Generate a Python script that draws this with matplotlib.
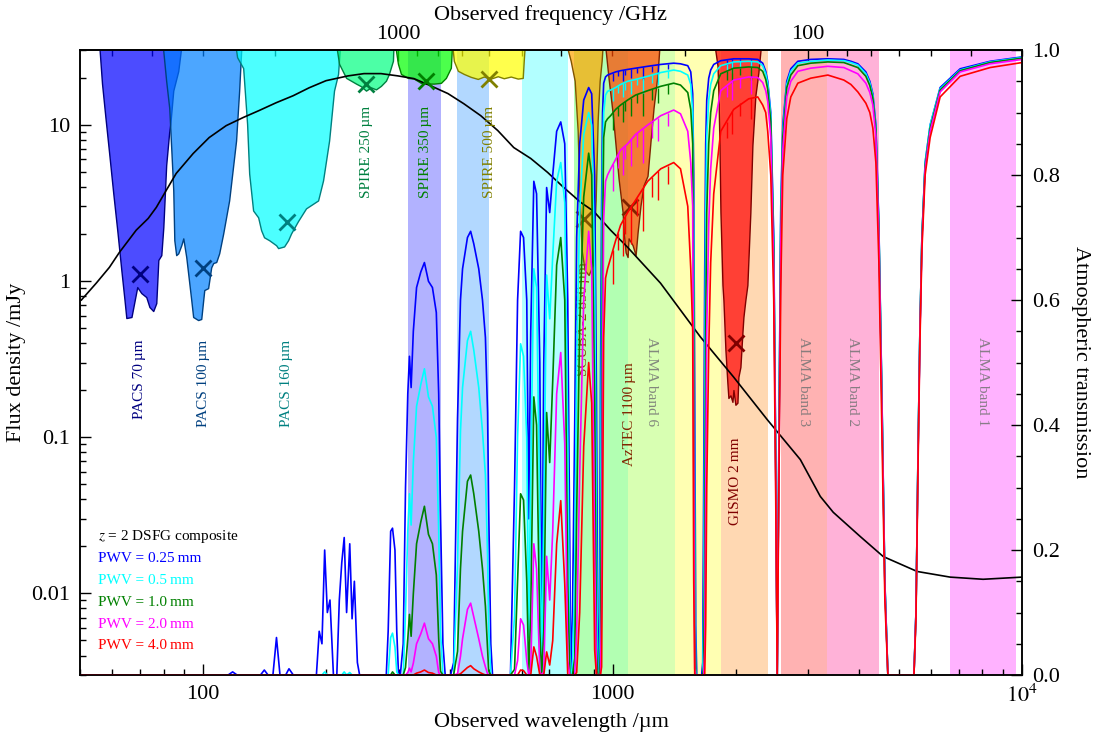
import matplotlib
matplotlib.use("Agg")
import matplotlib.pyplot as plt
from matplotlib.colors import to_rgb
from matplotlib.ticker import (FuncFormatter, NullFormatter, MultipleLocator,
                               FormatStrFormatter, FixedLocator)

plt.rcParams['font.family'] = ['Liberation Serif', 'DejaVu Serif']
plt.rcParams['mathtext.fontset'] = 'stix'
plt.rcParams['font.size'] = 16
plt.rcParams['axes.linewidth'] = 1.1

C_LIGHT = 299792.458  # um * GHz
ANNOT_SIZE = 11

# ---- z=2 DSFG composite SED (observed frame) ----
sed_wave = [50.4, 54.8, 59.0, 62.4, 68.6, 73.4, 76.8, 81.2, 85.9, 94.5, 103.4, 113.8, 125.2,
            136.9, 150.7, 165.8, 181.4, 199.5, 225.8, 247.0, 271.8, 298.9, 327.0, 359.8,
            396.0, 433.1, 476.4, 524.2, 573.5, 631.0, 694.0, 759.4, 835.6, 898.9, 988.8,
            1088, 1309, 1639, 1973, 2388, 2874, 3216, 3459, 4026, 4581, 5545, 6674, 8035, 10000]
sed_flux = [0.754, 0.967, 1.22, 1.52, 2.11, 2.51, 2.95, 3.79, 4.87, 6.53, 8.26, 9.85, 11.1,
            12.3, 13.8, 15.3, 17.2, 19.1, 20.5, 21.2, 21.2, 20.5, 19.7, 17.7,
            15.8, 13.6, 11.4, 9.16, 7.13, 6.07, 4.94, 3.96, 3.18, 2.79, 2.11,
            1.64, 0.967, 0.437, 0.243, 0.129, 0.0718, 0.0417, 0.033, 0.0231, 0.0172, 0.0138,
            0.0127, 0.0123, 0.0127]

# ---- filter profiles (lower edge of the hanging curves, mJy) ----
pacs70_wave = [55.4, 56.6, 57.7, 59.0, 60.3, 61.7, 63.1, 64.2, 64.9, 66.8, 69.0, 70.6, 72.6,
               73.9, 75.5, 76.8, 77.7, 79.0, 79.9, 81.2, 82.6, 83.1, 84.5, 86.9, 89.4]
pacs70_flux = [40, 18.3, 11.1, 6.34, 3.63, 2.08, 1.17, 0.764, 0.578, 0.587, 0.912, 0.835, 0.787,
               0.68, 0.641, 0.72, 1.36, 1.46, 2.2, 5.5, 9.0, 10.1, 16.5, 22, 40]
pacs100_wave = [79.0, 81.2, 82.6, 83.6, 84.5, 85.0, 85.9, 86.9, 88.4, 89.4, 90.9, 93.5, 94.5,
                97.2, 98.9, 100.0, 100.6, 102.8, 104.6, 105.8, 107.6, 109.4, 111.9, 115.7,
                120.3, 122.4, 124.5]
pacs100_flux = [40, 19, 12.8, 6.8, 3.79, 1.82, 1.46, 1.50, 1.69, 1.87, 1.42, 0.753, 0.587,
                0.561, 0.570, 0.753, 0.873, 0.898, 1.22, 1.30, 1.32, 1.50, 2.01, 3.27,
                7.9, 16.5, 40]
pacs160_wave = [118.4, 121.0, 125.2, 128.0, 129.5, 132.4, 136.2, 138.5, 140.8, 144.9, 150.7,
                152.4, 157.6, 161.2, 163.9, 170.4, 178.3, 190.8, 196.2, 203.0, 208.7, 213.5, 217.1]
pacs160_flux = [40, 27, 23, 10.1, 4.86, 2.82, 2.55, 2.11, 1.90, 1.82, 1.69,
                1.62, 1.66, 1.82, 2.01, 2.41, 2.91, 3.27, 4.39, 7.9, 16.5, 21.1, 40]
spire250_wave = [208.7, 214.7, 223.4, 229.6, 236.2, 242.9, 249.8, 256.9, 264.2, 271.7, 279.5,
                 284.2, 290.7, 292.4]
spire250_flux = [40, 24.5, 19.9, 19.1, 18.3, 17.6, 16.5, 17.3, 16.8, 17.7, 19.1, 21.1, 25.6, 40]
spire350_wave = [290.7, 299.0, 304.1, 316.2, 327.0, 340.1, 353.8, 366.0, 380.7, 391.5, 402.6, 407.1]
spire350_flux = [40, 24.5, 21.1, 19.9, 19.7, 18.5, 18.3, 18.3, 18.5, 19.9, 23.1, 40]
spire500_wave = [402.6, 409.4, 418.8, 433.1, 450.5, 468.5, 484.5, 504.0, 524.2, 542.2, 563.9,
                 586.5, 603.2, 606.6, 613.5]
spire500_flux = [40, 25.6, 22.1, 21.1, 20.2, 19.6, 20.3, 19.7, 20.4, 19.8, 20.3, 19.7, 19.9, 25.6, 40]
scuba850_wave = [755.1, 789.9, 807.8, 821.5, 830.8, 840.2, 854.5, 874.0, 893.8, 909.0, 919.3,
                 929.8, 940.2, 950.6]
scuba850_flux = [40, 25.6, 19.1, 9.16, 3.27, 1.57, 1.17, 1.09, 1.26, 3.27, 10.6, 19.1, 25.6, 40]
aztec_wave = [950.6, 977.7, 1000, 1017, 1034, 1058, 1064, 1076, 1088, 1094, 1119, 1138, 1151,
              1170, 1190, 1217, 1238, 1259, 1288, 1309]
aztec_flux = [40, 19.7, 11.9, 7.35, 4.52, 2.74, 2.05, 1.52, 1.42, 1.87, 1.69, 1.46, 2.05,
              3.04, 4.08, 4.7, 7.9, 12.8, 21.1, 40]
gismo_wave = [1754, 1804, 1814, 1824, 1834, 1855, 1865, 1886, 1907, 1918, 1940, 1962, 1973,
              1995, 2018, 2029, 2052, 2075, 2087, 2110, 2134, 2170, 2195, 2232, 2270, 2322]
gismo_flux = [40, 23.8, 15.3, 7.35, 2.74, 0.94, 0.753, 0.361, 0.222, 0.178, 0.185, 0.168, 0.2,
              0.161, 0.166, 0.243, 0.281, 0.464, 0.586, 0.753, 0.94, 2.74, 7.35, 15.3, 21.5, 40]

filter_names = ['PACS 70\u2009µm', 'PACS 100\u2009µm', 'PACS 160\u2009µm', 'SPIRE 250\u2009µm',
                'SPIRE 350\u2009µm', 'SPIRE 500\u2009µm', 'SCUBA-2 850\u2009µm',
                'AzTEC 1100\u2009µm', 'GISMO 2\u2009mm']
filter_wave = [70, 100, 160, 250, 350, 500, 850, 1100, 2000]
filter_flux = [1.1, 1.2, 2.37, 18.3, 19.1, 19.7, 2.5, 2.95, 0.40]
filter_colors = ['#0000ff', '#0080ff', '#00ffff', '#00ff80', '#00ff00', '#ffff00',
                 '#ffa500', '#ff4500', '#ff0000']
filter_curves = [(pacs70_wave, pacs70_flux), (pacs100_wave, pacs100_flux),
                 (pacs160_wave, pacs160_flux), (spire250_wave, spire250_flux),
                 (spire350_wave, spire350_flux), (spire500_wave, spire500_flux),
                 (scuba850_wave, scuba850_flux), (aztec_wave, aztec_flux),
                 (gismo_wave, gismo_flux)]
label_top = [0.42, 0.42, 0.42, 13.2, 13.2, 13.2, 1.32, 0.30, 0.099]

# ---- ALMA receiver bands (GHz) ----
alma_band = [1, 2, 3, 4, 5, 6, 7, 8, 9, 10]
alma_lo_ghz = [31, 67, 90, 125, 163, 211, 275, 385, 602, 787]
alma_hi_ghz = [45, 90, 116, 163, 211, 275, 373, 500, 720, 950]
alma_colors = ['#ff00ff', '#ff0080', '#ff0000', '#ff8000', '#ffff00',
               '#80ff00', '#00ff00', '#00ffff', '#0080ff', '#0000ff']
alma_labelled = [1, 2, 3, 6]

# ---- zenith atmospheric transmission for several PWV values ----
pwv_labels = ['0.25', '0.5', '1.0', '2.0', '4.0']
pwv_colors = ['blue', 'cyan', 'green', 'magenta', 'red']

wave_atm = [
    50, 115, 118, 121, 138, 141, 144, 148, 151, 154, 159, 162, 166,
    189, 192, 195, 198, 201, 204, 208, 212, 215, 218, 221, 224, 228, 231, 234, 238, 241,
    280, 283, 287, 290, 294, 297, 300,
    303, 308, 312, 316, 319, 322, 326, 332, 340, 347, 355, 363, 371, 376, 380, 385, 390,
    402, 409, 418, 425, 430, 442, 450, 458, 471, 481, 489, 495, 498, 504, 509,
    563, 576, 586, 596, 606, 617, 624, 631, 642, 652, 664, 671, 679, 690, 702, 714, 730, 747, 764, 777, 786, 790,
    798, 808, 817, 831, 850, 874, 889, 904, 913, 919, 924, 929,
    934, 940, 945, 951, 961, 972, 989, 1017, 1046, 1088, 1138, 1218, 1311, 1410, 1465, 1526, 1552, 1569, 1578, 1587, 1596, 1605, 1650,
    1660, 1669, 1679, 1688, 1698, 1717, 1736, 1766, 1837, 1976, 2150, 2262, 2326, 2366, 2393, 2434, 2475, 2503, 2524,
    2546, 2575, 2604, 2663, 2724, 2834, 3048, 3355, 3671, 3819, 3972, 4155, 4249, 4322, 4396, 4471, 4547, 4624, 4703,
    5446, 5508, 5571, 5631, 5695, 5799, 5965, 6310, 7062, 8356, 10000,
]
trans_025 = [
    0, 0, .005, 0, 0, .008, 0, 0, .06, 0, 0, .01, 0,
    0, .07, .05, .2, .1, .12, 0, 0, .12, .18, .22, .1, .21, .09, .15, .02, 0,
    0, .07, .23, .235, .2, .07, 0,
    0, .05, .3, .45, .51, .46, .55, .62, .645, .66, .63, .62, .58, .45, .25, .05, 0,
    0, .02, .41, .6, .65, .70, .71, .69, .65, .6, .54, .42, .27, .05, 0,
    0, .3, .6, .71, .70, .6, .25, .55, .79, .77, .5, .05, .5, .78, .74, .8, .87, .885, .85, .6, .2, 0,
    .1, .4, .7, .85, .92, .94, .93, .8, .45, .1, 0, .05,
    .45, .75, .9, .947, .957, .96, .962, .965, .967, .969, .971, .974, .977, .979, .978, .975, .965, .93, .8, .45, .08, 0, 0,
    .02, .3, .65, .85, .92, .955, .968, .977, .983, .986, .986, .985, .979, .966, .95, .9, .7, .35, 0,
    .35, .75, .88, .95, .97, .982, .985, .986, .985, .982, .978, .965, .95, .93, .88, .72, .45, .15, 0,
    0, .1, .35, .55, .7, .82, .88, .94, .97, .982, .989,
]
trans_05 = [
    0, 0, 0, 0, 0, 0, 0, 0, 0, 0, 0, 0, 0,
    0, 0, 0, .005, 0, 0, 0, 0, 0, 0, .005, 0, .004, 0, 0, 0, 0,
    0, 0, .06, .067, .045, .005, 0,
    0, 0, .10, .23, .29, .24, .34, .43, .465, .49, .445, .43, .38, .23, .07, 0, 0,
    0, 0, .18, .39, .46, .535, .55, .52, .46, .39, .32, .19, .08, 0, 0,
    0, .094, .38, .53, .51, .38, .06, .32, .65, .62, .26, 0, .26, .64, .57, .67, .79, .82, .756, .38, .04, 0,
    .01, .16, .5, .74, .865, .9, .88, .65, .21, .01, 0, 0,
    .21, .57, .82, .9, .928, .934, .936, .94, .945, .95, .953, .958, .964, .968, .966, .96, .945, .9, .7, .25, .01, 0, 0,
    0, .1, .45, .73, .86, .92, .945, .962, .975, .981, .982, .981, .975, .962, .946, .895, .69, .34, 0,
    .34, .74, .87, .945, .966, .979, .982, .984, .983, .98, .976, .962, .947, .927, .877, .717, .447, .148, 0,
    0, .1, .35, .55, .7, .82, .88, .938, .968, .981, .988,
]
trans_10 = [
    0, 0, 0, 0, 0, 0, 0, 0, 0, 0, 0, 0, 0,
    0, 0, 0, 0, 0, 0, 0, 0, 0, 0, 0, 0, 0, 0, 0, 0, 0,
    0, 0, 0, .005, 0, 0, 0,
    0, 0, .012, .058, .097, .062, .13, .21, .245, .27, .225, .21, .16, .058, .006, 0, 0,
    0, 0, .038, .17, .23, .31, .32, .29, .23, .17, .11, .04, .007, 0, 0,
    0, .009, .15, .29, .28, .15, .003, .10, .445, .40, .07, 0, .07, .42, .34, .47, .656, .70, .6, .15, 0, 0,
    0, .027, .26, .56, .765, .835, .8, .44, .044, 0, 0, 0,
    .043, .33, .69, .86, .885, .89, .895, .905, .912, .92, .928, .935, .942, .947, .944, .932, .905, .85, .55, .08, 0, 0, 0,
    0, .015, .2, .54, .74, .85, .9, .935, .962, .971, .973, .972, .966, .953, .937, .885, .68, .33, 0,
    .33, .72, .86, .94, .96, .975, .979, .981, .98, .976, .972, .958, .943, .923, .873, .713, .443, .146, 0,
    0, .1, .35, .55, .7, .815, .875, .936, .967, .98, .987,
]
trans_20 = [
    0, 0, 0, 0, 0, 0, 0, 0, 0, 0, 0, 0, 0,
    0, 0, 0, 0, 0, 0, 0, 0, 0, 0, 0, 0, 0, 0, 0, 0, 0,
    0, 0, 0, 0, 0, 0, 0,
    0, 0, 0, .004, .011, .005, .019, .05, .066, .083, .058, .05, .03, .004, 0, 0, 0,
    0, 0, .002, .03, .058, .105, .115, .093, .058, .03, .013, .002, 0, 0, 0,
    0, 0, .023, .09, .08, .023, 0, .011, .21, .17, .005, 0, .005, .19, .12, .23, .45, .516, .37, .023, 0, 0,
    0, 0, .067, .32, .6, .71, .65, .196, .002, 0, 0, 0,
    .002, .11, .49, .73, .79, .8, .81, .825, .84, .85, .865, .88, .895, .904, .898, .87, .82, .75, .35, .01, 0, 0, 0,
    0, 0, .04, .29, .55, .72, .81, .875, .935, .952, .957, .956, .948, .935, .918, .86, .65, .31, 0,
    .31, .69, .84, .925, .95, .966, .971, .974, .972, .967, .962, .947, .932, .912, .862, .70, .43, .14, 0,
    0, .1, .34, .54, .69, .81, .87, .933, .965, .978, .985,
]
trans_40 = [
    0, 0, 0, 0, 0, 0, 0, 0, 0, 0, 0, 0, 0,
    0, 0, 0, 0, 0, 0, 0, 0, 0, 0, 0, 0, 0, 0, 0, 0, 0,
    0, 0, 0, 0, 0, 0, 0,
    0, 0, 0, 0, 0, 0, 0, .003, .005, .008, .004, .003, 0, 0, 0, 0, 0,
    0, 0, 0, .002, .005, .012, .015, .01, .005, .002, 0, 0, 0, 0, 0,
    0, 0, 0, .008, .007, 0, 0, 0, .045, .03, 0, 0, 0, .037, .016, .055, .21, .279, .146, 0, 0, 0,
    0, 0, .004, .10, .366, .5, .435, .04, 0, 0, 0, 0,
    0, .013, .24, .54, .635, .65, .667, .695, .72, .74, .76, .79, .81, .82, .81, .75, .65, .55, .15, 0, 0, 0, 0,
    0, 0, .002, .08, .3, .52, .66, .77, .87, .905, .922, .925, .912, .9, .87, .8, .6, .28, 0,
    .28, .62, .8, .89, .925, .947, .955, .96, .952, .945, .933, .915, .9, .875, .82, .66, .39, .12, 0,
    0, .09, .33, .53, .68, .8, .86, .925, .958, .972, .98,
]
trans_curves = [trans_025, trans_05, trans_10, trans_20, trans_40]

# narrow ozone lines inside the 1 mm and 2 mm windows (top and bottom of each dip)
spike_wave = [1005, 1032, 1060, 1075, 1110, 1150, 1185, 1250, 1290, 1365, 1900, 1960, 2050, 2180]
spike_top_025 = [.964, .966, .968, .968, .970, .971, .973, .975, .976, .978, .984, .986, .986, .986]
spike_bot_025 = [.950, .958, .950, .960, .955, .963, .952, .965, .962, .970, .975, .972, .978, .976]
spike_top_05 = [.938, .943, .947, .948, .951, .954, .956, .960, .963, .966, .978, .981, .982, .982]
spike_bot_05 = [.918, .932, .925, .936, .930, .944, .928, .947, .944, .955, .968, .964, .972, .968]
spike_top_10 = [.900, .909, .915, .918, .924, .929, .932, .937, .940, .945, .966, .971, .972, .973]
spike_bot_10 = [.872, .895, .885, .902, .895, .915, .895, .920, .915, .930, .952, .948, .960, .952]
spike_top_20 = [.818, .833, .843, .847, .857, .867, .874, .885, .892, .900, .943, .951, .955, .957]
spike_bot_20 = [.775, .812, .800, .825, .815, .845, .820, .860, .855, .878, .925, .920, .940, .930]
spike_top_40 = [.680, .708, .727, .734, .749, .764, .778, .797, .806, .815, .885, .903, .915, .923]
spike_bot_40 = [.625, .680, .670, .705, .690, .735, .710, .765, .760, .785, .860, .865, .895, .890]
spike_tops = [spike_top_025, spike_top_05, spike_top_10, spike_top_20, spike_top_40]
spike_bots = [spike_bot_025, spike_bot_05, spike_bot_10, spike_bot_20, spike_bot_40]


def darker(c, f=0.5):
    r, g, b = to_rgb(c)
    return (r * f, g * f, b * f)


def lam2nu(x):
    return C_LIGHT / x


fig = plt.figure(figsize=(11, 7.35), dpi=100)
ax = fig.add_axes([0.0727, 0.0816, 0.8564, 0.8503])
ax.set_xscale('log')
ax.set_yscale('log')
ax.set_xlim(50, 1e4)
ax.set_ylim(0.003, 30)

# ALMA bands as vertical shading
for band, lo, hi, col in zip(alma_band, alma_lo_ghz, alma_hi_ghz, alma_colors):
    ax.axvspan(C_LIGHT / hi, C_LIGHT / lo, color=col, alpha=0.3, lw=0, zorder=0)
    if band in alma_labelled:
        xc = (C_LIGHT / hi * C_LIGHT / lo) ** 0.5
        ax.text(xc, 0.44, 'ALMA band %d' % band, rotation=270, ha='center', va='top',
                color='0.45', alpha=0.85, fontsize=ANNOT_SIZE, zorder=1)

# filter curves hanging from the top of the plot
for (wl, fl), col in zip(filter_curves, filter_colors):
    r, g, b = to_rgb(col)
    ax.fill_between(wl, fl, 100, facecolor=(r, g, b, 0.7), edgecolor=darker(col), lw=1, zorder=2)

ax.plot(sed_wave, sed_flux, color='k', lw=1.2, zorder=3)

for name, x, y, col, ytxt in zip(filter_names, filter_wave, filter_flux, filter_colors, label_top):
    ax.plot(x, y, 'x', ms=12, mew=2, color=darker(col), zorder=4)
    ax.text(x, ytxt, name, rotation=90, ha='center', va='top', color=darker(col),
            fontsize=ANNOT_SIZE, zorder=4)

ax.set_xlabel('Observed wavelength /µm')
ax.set_ylabel('Flux density /mJy')
ax.xaxis.set_major_formatter(FuncFormatter(lambda v, p: '$10^4$' if v >= 1e4 else '%g' % v))
ax.xaxis.set_minor_formatter(NullFormatter())
ax.yaxis.set_major_formatter(FuncFormatter(lambda v, p: '%g' % v))
ax.yaxis.set_minor_formatter(NullFormatter())
ax.tick_params(which='both', direction='in', top=False, right=False, width=1)
ax.tick_params(which='major', length=8, pad=7)
ax.tick_params(which='minor', length=4)

# legend-like annotations
ax.text(0.019, 0.221, '$z$ = 2 DSFG composite', transform=ax.transAxes, fontsize=ANNOT_SIZE,
        va='center', color='k')
for i, (lab, col) in enumerate(zip(pwv_labels, pwv_colors)):
    ax.text(0.019, 0.186 - i * 0.0348, 'PWV = %s\u2009mm' % lab, transform=ax.transAxes,
            fontsize=ANNOT_SIZE, va='center', color=col)

# frequency axis on top
secax = ax.secondary_xaxis('top', functions=(lam2nu, lam2nu))
secax.set_xlabel('Observed frequency /GHz', labelpad=4)
secax.xaxis.set_major_locator(FixedLocator([100, 1000]))
secax.xaxis.set_major_formatter(FuncFormatter(lambda v, p: '%g' % v))
secax.xaxis.set_minor_formatter(NullFormatter())
secax.tick_params(which='both', direction='in', width=1)
secax.tick_params(which='major', length=8, pad=4)
secax.tick_params(which='minor', length=4)

# atmospheric transmission on the right-hand axis
ax2 = ax.twinx()
ax2.set_ylim(0, 1)
for tr, tops, bots, col in zip(trans_curves, spike_tops, spike_bots, pwv_colors):
    ax2.plot(wave_atm, tr, color=col, lw=1.2)
    ax2.vlines(spike_wave, bots, tops, color=col, lw=1.0)
ax2.set_xlim(50, 1e4)
ax2.set_ylabel('Atmospheric transmission', rotation=270, va='bottom', labelpad=8)
ax2.yaxis.set_major_locator(MultipleLocator(0.2))
ax2.yaxis.set_minor_locator(MultipleLocator(0.05))
ax2.yaxis.set_major_formatter(FormatStrFormatter('%.1f'))
ax2.tick_params(which='both', direction='in', width=1)
ax2.tick_params(which='major', length=8, pad=7)
ax2.tick_params(which='minor', length=4)

fig.savefig('out.png', dpi=100)
